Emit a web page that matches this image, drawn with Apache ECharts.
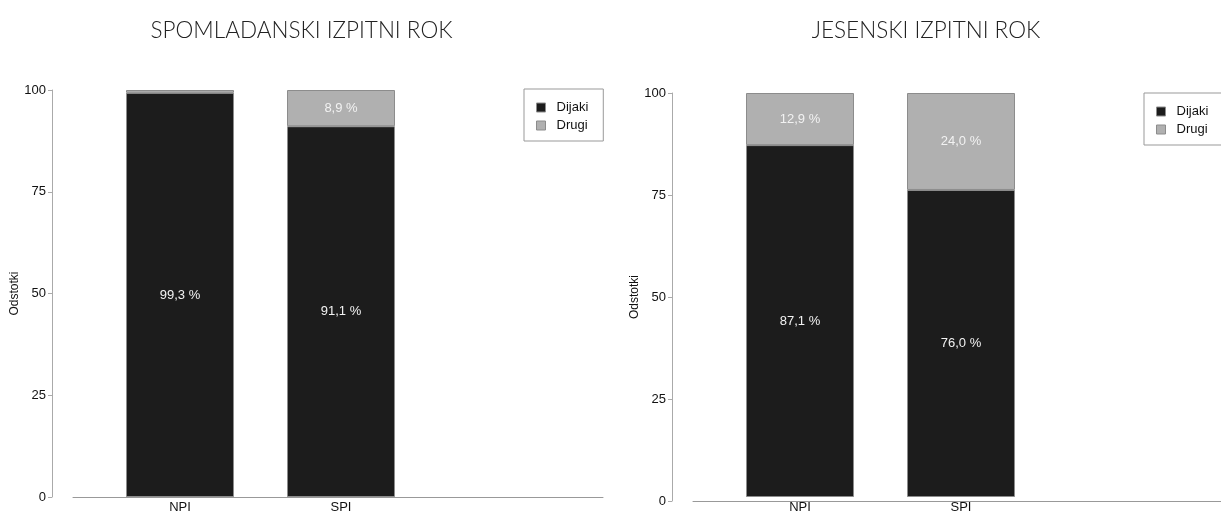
<!DOCTYPE html>
<html>
<head>
<meta charset="utf-8">
<script src="https://cdn.jsdelivr.net/npm/echarts@6/dist/echarts.min.js"></script>
<style>html,body{margin:0;padding:0;background:#fff}#c{width:1221px;height:514px}</style>
</head>
<body>
<div id="c"></div>
<script>
const categories = ['NPI', 'SPI', ''];
const titles = ['SPOMLADANSKI IZPITNI ROK', 'JESENSKI IZPITNI ROK'];
const seriesNames = ['Dijaki', 'Drugi'];
const springDijaki = [99.3, 91.1];
const springDrugi = [0.7, 8.9];
const autumnDijaki = [87.1, 76.0];
const autumnDrugi = [12.9, 24.0];
const yTicks = [0, 25, 50, 75, 100];
const yAxisName = 'Odstotki';

const colors = ['#1c1c1c', '#b0b0b0'];
const FONT = 'Liberation Sans, Arial, sans-serif';
const fmt = v => v.toFixed(1).replace('.', ',') + ' %';

function barSeries(name, data, panel, colorIdx) {
  const gi = panel * 2 + 1;
  return {
    type: 'bar', name: name, stack: 's' + panel,
    xAxisIndex: gi, yAxisIndex: gi,
    data: data, barWidth: 108,
    itemStyle: { color: colors[colorIdx], borderColor: '#8c8c8c', borderWidth: 1 },
    label: {
      show: true, position: 'inside', color: '#f2f2f2', fontSize: 13, fontFamily: FONT,
      formatter: p => (p.value < 2 ? '' : fmt(p.value))
    },
    emphasis: { disabled: true }
  };
}

// per panel: axis grid (full x-axis line) and bar grid (category slots)
const panels = [
  { left: 73, top: 90, height: 407 },
  { left: 693, top: 93, height: 408 }
];
const grids = [];
const xAxes = [];
const yAxes = [];
panels.forEach((p, i) => {
  grids.push({ left: p.left, top: p.top, width: 530, height: p.height });
  grids.push({ left: p.left + 26.5, top: p.top, width: 483, height: p.height });
  xAxes.push({
    type: 'value', gridIndex: i * 2, min: 0, max: 1,
    axisLine: { show: true, onZero: false, lineStyle: { color: '#999', width: 1 } },
    axisTick: { show: false }, splitLine: { show: false }, axisLabel: { show: false }
  });
  xAxes.push({
    type: 'category', gridIndex: i * 2 + 1, data: categories,
    axisLine: { show: false }, axisTick: { show: false }, splitLine: { show: false },
    axisLabel: { fontSize: 13, color: '#111', margin: 4, fontFamily: FONT, interval: 0 }
  });
  yAxes.push({
    type: 'value', gridIndex: i * 2, min: yTicks[0], max: yTicks[yTicks.length - 1], interval: 25,
    offset: 21,
    name: yAxisName, nameLocation: 'middle', nameGap: 27, nameRotate: 90,
    nameTextStyle: { fontSize: 12, color: '#111', fontFamily: FONT },
    axisLine: { show: true, onZero: false, lineStyle: { color: '#aaa', width: 1 } },
    axisTick: { show: true, length: 4, lineStyle: { color: '#aaa' } },
    splitLine: { show: false },
    axisLabel: { fontSize: 13, color: '#111', margin: 6, fontFamily: FONT }
  });
  yAxes.push({
    type: 'value', gridIndex: i * 2 + 1, min: yTicks[0], max: yTicks[yTicks.length - 1], interval: 25,
    show: false
  });
});

const option = {
  animation: false,
  title: titles.map((t, i) => ({
    text: t, left: [296.5, 921][i], top: 14, textAlign: 'center',
    textStyle: { fontFamily: 'Lato', fontWeight: 300, fontSize: 22.5, color: '#222' }
  })),
  legend: [0, 1].map(i => ({
    data: seriesNames, orient: 'vertical',
    left: [524, 1144][i], top: [89, 93][i],
    itemWidth: 9, itemHeight: 9, itemGap: 5,
    borderColor: '#999', borderWidth: 1, padding: [12, 15, 9, 12],
    icon: 'rect', selectedMode: false,
    itemStyle: { borderColor: '#8c8c8c', borderWidth: 1 },
    textStyle: { fontSize: 13, color: '#111', fontFamily: FONT, padding: [0, 0, 0, 6] }
  })),
  grid: grids,
  xAxis: xAxes,
  yAxis: yAxes,
  series: [
    barSeries(seriesNames[0], springDijaki, 0, 0),
    barSeries(seriesNames[1], springDrugi, 0, 1),
    barSeries(seriesNames[0], autumnDijaki, 1, 0),
    barSeries(seriesNames[1], autumnDrugi, 1, 1)
  ]
};
const chart = echarts.init(document.getElementById('c'), null, { renderer: 'canvas' });
chart.setOption(option);
</script>
</body>
</html>
